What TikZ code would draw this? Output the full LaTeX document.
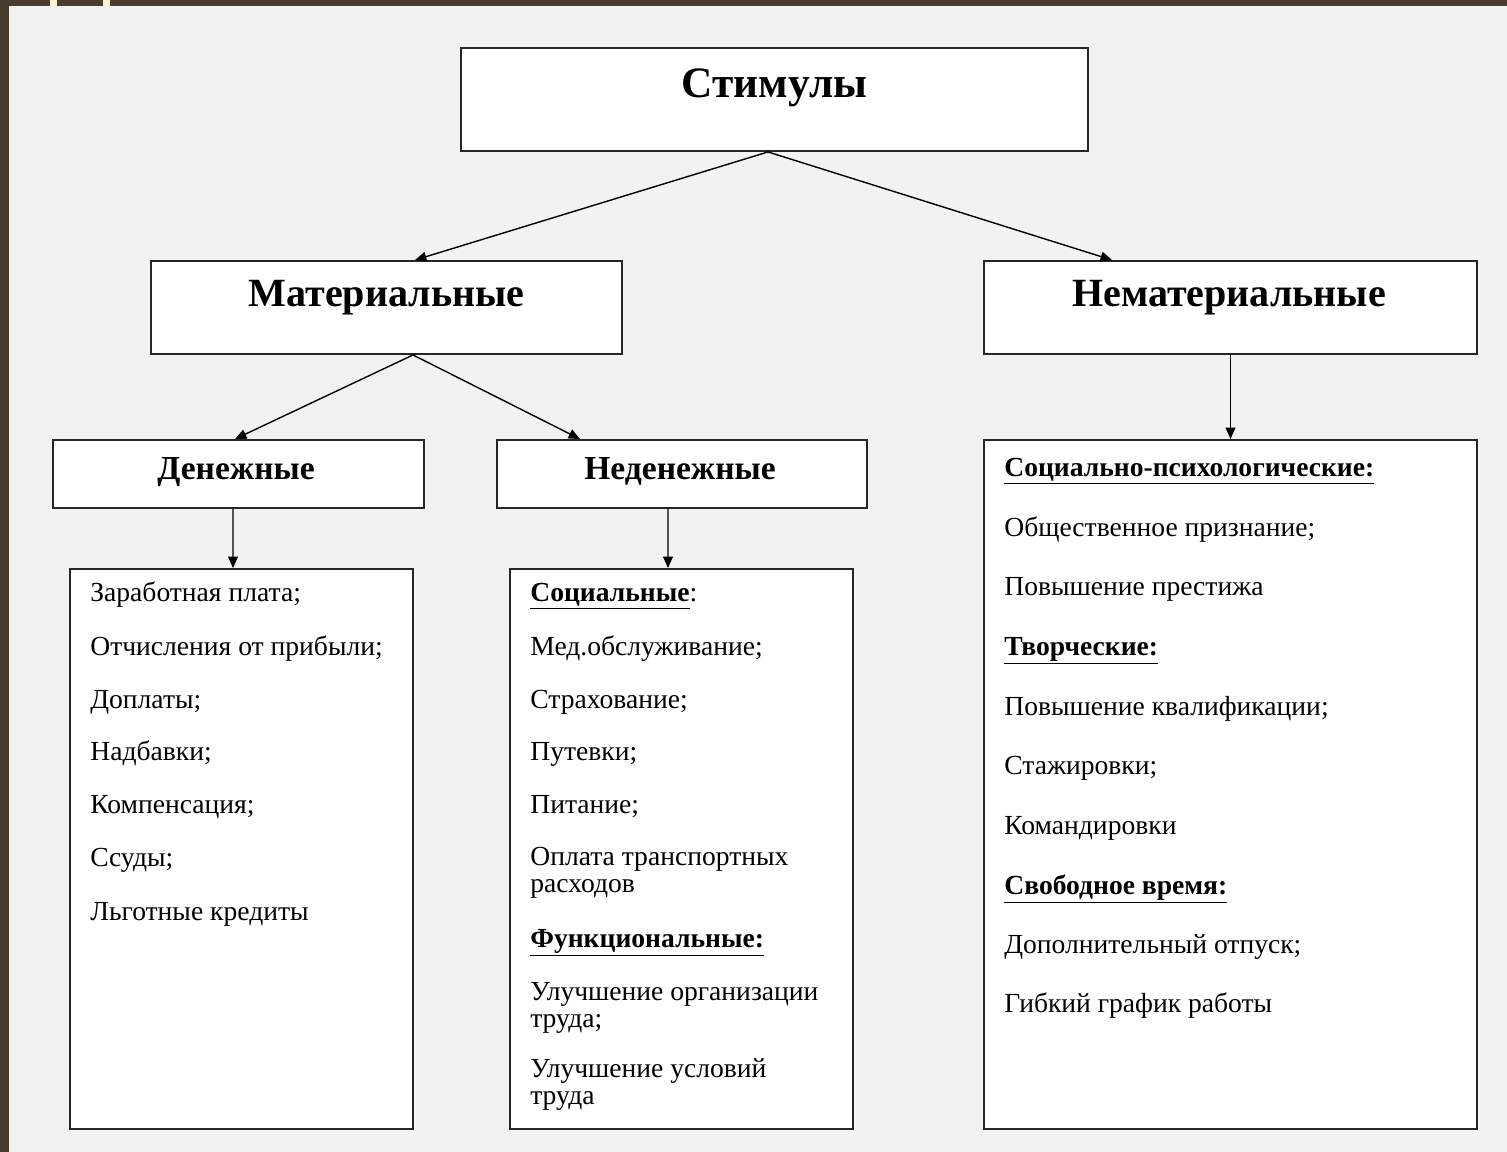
\documentclass[tikz,border=0pt]{standalone}
\usepackage{fontspec}
\setmainfont{Liberation Serif}
\usetikzlibrary{arrows.meta}
\definecolor{pagebg}{HTML}{F2F2F2}
\definecolor{frame}{HTML}{4A3B2F}
\definecolor{cream}{HTML}{FFF0C8}
\tikzset{
  box/.style={draw=black!85, line width=1.1pt, fill=white, inner sep=0pt},
  arr/.style={line width=0.8pt, -{Triangle[length=6.5pt,width=5.5pt]}},
  head/.style={anchor=base, inner sep=0pt, font=\bfseries\fontsize{22.8}{26}\selectfont},
  subhead/.style={anchor=base, inner sep=0pt, font=\bfseries\fontsize{19.1}{22}\selectfont},
  item/.style={anchor=base west, inner sep=0pt, align=left, font=\fontsize{15.7}{15.2}\selectfont},
}
\newcommand{\ulhead}[1]{\underline{\textbf{#1}}}

\begin{document}
\begin{tikzpicture}[x=0.02cm, y=-0.02cm]
  % page and frame
  \fill[pagebg] (0,0) rectangle (1507,1152);
  \fill[frame] (0,0) rectangle (9,1152);
  \fill[frame] (0,0) rectangle (1507,6);
  \fill[cream] (50,0) rectangle (57,6);
  \fill[cream] (103,0) rectangle (110,6);
  \useasboundingbox (0,0) rectangle (1507,1152);

  % boxes
  \node[box, minimum width=12.54cm, minimum height=2.06cm] (stim) at (774.5,99.5) {};
  \node[box, minimum width=9.42cm, minimum height=1.86cm] (mat) at (386.5,307.5) {};
  \node[box, minimum width=9.86cm, minimum height=1.86cm] (nemat) at (1230.5,307.5) {};
  \node[box, minimum width=7.42cm, minimum height=1.36cm] (den) at (238.5,474) {};
  \node[box, minimum width=7.40cm, minimum height=1.36cm] (neden) at (682,474) {};
  \node[box, minimum width=6.86cm, minimum height=11.2cm] (denlist) at (241.5,849) {};
  \node[box, minimum width=6.86cm, minimum height=11.2cm] (nedenlist) at (681.5,849) {};
  \node[box, minimum width=9.86cm, minimum height=13.78cm] (nematlist) at (1230.5,784.5) {};

  % headings
  \node[head, font=\bfseries\fontsize{24.7}{28}\selectfont] (stimtext) at (774.5,98) {Стимулы};
  \node[head] (mattext) at (386.5,306) {Материальные};
  \node[head] (nemattext) at (1229,306) {Нематериальные};
  \node[subhead] (dentext) at (236,479) {Денежные};
  \node[subhead] (nedentext) at (680,479) {Неденежные};

  % arrows
  \draw[arr] ([xshift=-0.13cm]stim.south) -- ([xshift=0.57cm]mat.north);
  \draw[arr] ([xshift=-0.13cm]stim.south) -- ([xshift=-2.37cm]nemat.north);
  \draw[arr] ([xshift=0.53cm]mat.south) -- ([xshift=-0.07cm]den.north);
  \draw[arr] ([xshift=0.53cm]mat.south) -- ([xshift=-2.04cm]neden.north);
  \draw[arr] (nemat.south) -- (nematlist.north);
  \draw[arr] ([xshift=-0.11cm]den.south) -- ([xshift=-0.17cm]denlist.north);
  \draw[arr] ([xshift=-0.28cm]neden.south) -- ([xshift=-0.27cm]nedenlist.north);

  % monetary
  \node[item] (d1) at (90,601) {Заработная плата;};
  \node[item] (d2) at (90,655) {Отчисления от прибыли;};
  \node[item] (d3) at (90,708) {Доплаты;};
  \node[item] (d4) at (90,760) {Надбавки;};
  \node[item] (d5) at (90,813) {Компенсация;};
  \node[item] (d6) at (90,866) {Ссуды;};
  \node[item] (d7) at (90,920) {Льготные кредиты};

  % non-monetary (two-line items sit on their last baseline)
  \node[item] (n1) at (530,601) {\ulhead{Социальные}:};
  \node[item] (n2) at (530,655) {Мед.обслуживание;};
  \node[item] (n3) at (530,708) {Страхование;};
  \node[item] (n4) at (530,760) {Путевки;};
  \node[item] (n5) at (530,813) {Питание;};
  \node[item] (n6) at (530,892) {Оплата транспортных\\расходов};
  \node[item] (n7) at (530,947) {\ulhead{Функциональные:}};
  \node[item] (n8) at (530,1027) {Улучшение организации\\труда;};
  \node[item] (n9) at (530,1104) {Улучшение условий\\труда};

  % non-material
  \node[item] (m1) at (1004,476) {\ulhead{Социально-психологические:}};
  \node[item] (m2) at (1004,536) {Общественное признание;};
  \node[item] (m3) at (1004,595) {Повышение престижа};
  \node[item] (m4) at (1004,655) {\ulhead{Творческие:}};
  \node[item] (m5) at (1004,715) {Повышение квалификации;};
  \node[item] (m6) at (1004,774) {Стажировки;};
  \node[item] (m7) at (1004,834) {Командировки};
  \node[item] (m8) at (1004,894) {\ulhead{Свободное время:}};
  \node[item] (m9) at (1004,953) {Дополнительный отпуск;};
  \node[item] (m10) at (1004,1012) {Гибкий график работы};
\end{tikzpicture}
\end{document}
